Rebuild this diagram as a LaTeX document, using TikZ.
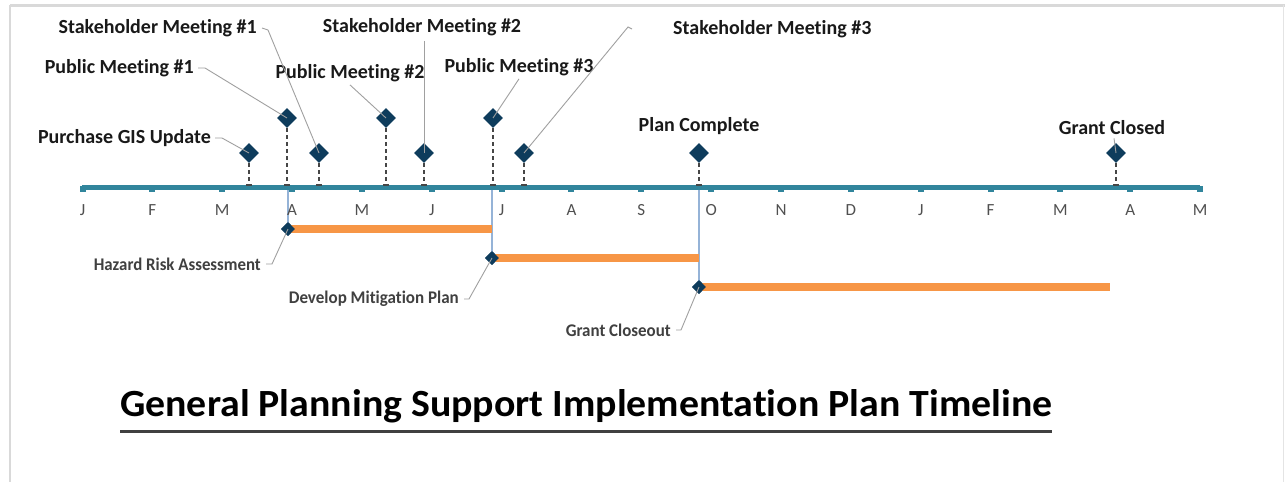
\documentclass[tikz,border=0pt]{standalone}
\usepackage{fontspec}
\setmainfont{Carlito}[Ligatures={NoCommon}]
\usetikzlibrary{shapes.geometric}
\definecolor{axisc}{RGB}{49,133,156}
\definecolor{navy}{RGB}{14,60,92}
\definecolor{barc}{RGB}{247,150,70}
\definecolor{vline}{RGB}{149,179,215}
\definecolor{leader}{RGB}{160,160,160}
\definecolor{dropc}{RGB}{70,70,70}
\definecolor{monthc}{RGB}{80,80,80}
\definecolor{taskc}{RGB}{64,64,64}
\definecolor{framec}{RGB}{217,217,217}
\newcommand{\tasktext}[2]{\resizebox{#1}{12.5pt}{\bfseries #2}}
\tikzset{
  msd/.style={diamond, fill=navy, inner sep=0pt, minimum width=20pt, minimum height=20pt},
  tsd/.style={diamond, fill=navy, inner sep=0pt, minimum width=14pt, minimum height=14pt},
  mlabel/.style={font=\fontsize{20}{24}\selectfont\bfseries, text=black!90, inner sep=0pt},
  tlabel/.style={text=taskc, inner sep=0pt},
  month/.style={font=\fontsize{17}{20}\selectfont, text=monthc, inner sep=0pt},
  ldr/.style={draw=leader, line width=0.9pt},
  drop/.style={draw=dropc, line width=1.1pt, dash pattern=on 4pt off 3pt},
  dcap/.style={draw=dropc, line width=1.1pt},
  axisline/.style={draw=axisc, line width=5pt},
  tickmark/.style={fill=axisc, inner sep=0pt, minimum size=6pt},
  bar/.style={draw=barc, line width=8pt},
  vl/.style={draw=vline, line width=1.3pt},
}
\begin{document}
\begin{tikzpicture}[x=1pt,y=-1pt]
% canvas and frame
\fill[white] (0,0) rectangle (1285,482);
\useasboundingbox (0,0) rectangle (1285,482);
\draw[framec, line width=3pt] (10,5) -- (1285,5);
\draw[framec, line width=2pt] (10,5) -- (10,482);
\draw[framec!70, line width=1pt] (1283,5) -- (1283,482);

% axis coordinates
\coordinate (axL) at (82,187);
\coordinate (axR) at (1200,187);
\coordinate (axTop) at (0,185);

% task diamonds (placed first for vertical guides)
\node[tsd] (hz) at (288,229) {};
\node[tsd] (dm) at (492,258) {};
\node[tsd] (gc) at (699,287) {};

% vertical guides
\draw[vl] (hz.center |- axL) -- (hz.center);
\draw[vl] (dm.center |- axL) -- (dm.center);
\draw[vl] (gc.center |- axL) -- (gc.center);

% axis
\draw[axisline] (axL) -- (axR);
\foreach \m [count=\i from 0] in {J,F,M,A,M,J,J,A,S,O,N,D,J,F,M,A,M} {
  \node[tickmark] (t\i) at (82.5+69.85*\i,189) {};
  \node[month] (ml\i) at (82.5+69.85*\i,210) {\m};
}

% task bars
\coordinate (hzE) at (492,229);
\coordinate (dmE) at (699,258);
\coordinate (gcE) at (1110,287);
\draw[bar] (hz.center) -- (hzE);
\draw[bar] (dm.center) -- (dmE);
\draw[bar] (gc.center) -- (gcE);
\node[tsd] at (hz) {};
\node[tsd] at (dm) {};
\node[tsd] at (gc) {};

% task labels
\node[tlabel, anchor=east] (hzL) at (261,264) {\tasktext{167pt}{Hazard Risk Assessment}};
\node[tlabel, anchor=east] (dmL) at (459,299) {\tasktext{170pt}{Develop Mitigation Plan}};
\node[tlabel, anchor=east] (gcL) at (671,330) {\tasktext{105pt}{Grant Closeout}};
\coordinate (hzB) at (272,264);
\coordinate (dmB) at (469,299);
\coordinate (gcB) at (681,330);
\draw[ldr] ([xshift=5pt]hzL.east) -- (hzB) -- (hz.center);
\draw[ldr] ([xshift=5pt]dmL.east) -- (dmB) -- (dm.center);
\draw[ldr] ([xshift=5pt]gcL.east) -- (gcB) -- (gc.center);

% milestone diamonds
\node[msd] (m1) at (249,153) {};
\node[msd] (m2) at (287,118) {};
\node[msd] (m3) at (319,153) {};
\node[msd] (m4) at (386,118) {};
\node[msd] (m5) at (424,153) {};
\node[msd] (m6) at (493,118) {};
\node[msd] (m7) at (524,153) {};
\node[msd] (m8) at (699,153) {};
\node[msd] (m9) at (1116,153) {};

% drop lines
\foreach \d in {m1,m2,m3,m4,m5,m6,m7,m8,m9} {
  \draw[drop] (\d.south) -- (\d.south |- axTop) coordinate (\d b);
  \draw[dcap] ([xshift=-3pt]\d b) -- ([xshift=3pt]\d b);
}

% milestone labels
\node[mlabel, anchor=east] (l1) at (211,138) {Purchase GIS Update};
\node[mlabel, anchor=east] (l2) at (194,68) {Public Meeting \#1};
\node[mlabel, anchor=east] (l3) at (257,28) {Stakeholder Meeting \#1};
\node[mlabel] (l4) at (350,73) {Public Meeting \#2};
\node[mlabel] (l5) at (422,27) {Stakeholder Meeting \#2};
\node[mlabel] (l6) at (519,67) {Public Meeting \#3};
\node[mlabel, anchor=west] (l7) at (673,29) {Stakeholder Meeting \#3};
\node[mlabel] (l8) at (699,126) {Plan Complete};
\node[mlabel] (l9) at (1112,128) {Grant Closed};

% leaders
\coordinate (b1) at (222,138);
\coordinate (b2) at (205,68);
\coordinate (b3) at (268,30);
\coordinate (b7) at (628,27);
\draw[ldr] ([xshift=4pt]l1.east) -- (b1) -- (m1.center);
\draw[ldr] ([xshift=4pt]l2.east) -- (b2) -- (m2.center);
\draw[ldr] ([xshift=5pt]l3.east) -- (b3) -- (m3.center);
\draw[ldr] ([yshift=-3pt]l4.south) -- (m4.center);
\draw[ldr] ([xshift=2pt,yshift=-5pt]l5.south) -- (m5.center);
\draw[ldr] ([yshift=-3pt]l6.south) -- (m6.center);
\draw[ldr] ([xshift=-41pt]l7.west) -- (b7) -- (m7.center);
\draw[ldr] ([xshift=2pt,yshift=-3pt]l9.south) -- (m9.center);

% title
\node[inner sep=0pt, anchor=south west] (title) at (120,423)
  {\resizebox{932pt}{27pt}{\bfseries General Planning Support Implementation Plan Timeline}};
\draw[draw=black!75, line width=3pt] ([yshift=-8pt]title.south west) -- ([yshift=-8pt]title.south east);
\end{tikzpicture}
\end{document}
